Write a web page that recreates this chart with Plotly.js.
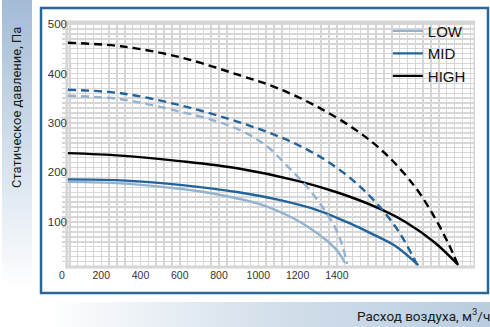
<!DOCTYPE html>
<html>
<head>
<meta charset="utf-8">
<script src="https://cdn.plot.ly/plotly-3.0.1.min.js"></script>
<style>
  html, body { margin: 0; padding: 0; background: #ffffff; }
  #wrap { position: relative; width: 490px; height: 327px; overflow: hidden; }
  #leftStrip { position: absolute; left: 2px; top: 0; width: 30px; height: 290px;
    background: linear-gradient(to bottom, #a3bbd5 0%, #cddbe9 45%, #ffffff 100%); }
  #bottomStrip { position: absolute; left: 46px; top: 302px; width: 444px; height: 25px;
    background: linear-gradient(to right, #ffffff 0%, #d4e0eb 50%, #b9cde0 100%); }
  #chart { position: absolute; left: 0; top: 0; width: 490px; height: 327px; }
</style>
</head>
<body>
<div id="wrap">
  <div id="leftStrip"></div>
  <div id="bottomStrip"></div>
  <div id="chart"></div>
</div>
<script>
// ---- data ----
const xTickLabelsHidden = ['1600', '1800', '2000'];   // no labels past 1400 in the reference
const seriesNames = ['LOW', 'MID', 'HIGH'];

// solid curves
const lowX  = [30, 300, 600, 800, 1000, 1150, 1250, 1350, 1410, 1442];
const lowY  = [181, 178, 167, 155, 137, 113, 91, 62, 38, 17];
const midX  = [30, 300, 600, 900, 1100, 1300, 1450, 1600, 1700, 1815];
const midY  = [186, 184, 175, 160, 145, 124, 100, 72, 51, 13];
const highX = [30, 300, 600, 900, 1200, 1400, 1600, 1750, 1900, 2019];
const highY = [239, 234, 223, 208, 183, 160, 130, 100, 58, 13];

// dashed curves
const lowDashX  = [30, 300, 600, 800, 950, 1050, 1150, 1250, 1330, 1390, 1430, 1452];
const lowDashY  = [355, 348, 323, 302, 277, 251, 212, 170, 128, 90, 50, 15];
const midDashX  = [30, 300, 600, 850, 1050, 1200, 1350, 1500, 1620, 1720, 1807];
const midDashY  = [367, 360, 336, 308, 281, 256, 223, 178, 130, 78, 15];
const highDashX = [30, 300, 600, 900, 1100, 1300, 1500, 1650, 1800, 1900, 1970, 2015];
const highDashY = [462, 455, 433, 397, 370, 333, 285, 237, 170, 108, 55, 15];

const yTitle = 'Статическое давление, Па';
const xTitle = 'Расход воздуха, м<sup>3</sup>/ч';

// ---- styles ----
const colors = ['#92b2d0', '#21639a', '#000000'];
const lw = 2.4;
const dashPat = '8px,5px';

function solid(x, y, i) {
  return { x: x, y: y, type: 'scatter', mode: 'lines', name: seriesNames[i],
    line: { color: colors[i], width: lw, shape: 'spline', smoothing: 1 },
    showlegend: true, hoverinfo: 'skip' };
}
function dashed(x, y, i) {
  return { x: x, y: y, type: 'scatter', mode: 'lines', name: seriesNames[i] + ' ',
    line: { color: colors[i], width: lw, shape: 'spline', smoothing: 1, dash: dashPat },
    showlegend: false, hoverinfo: 'skip' };
}

const traces = [
  solid(lowX, lowY, 0), solid(midX, midY, 1), solid(highX, highY, 2),
  dashed(lowDashX, lowDashY, 0), dashed(midDashX, midDashY, 1), dashed(highDashX, highDashY, 2)
];

const gridC = '#d6d6d6';
const tickFont = { family: 'Liberation Sans, Arial, sans-serif', color: '#333333' };
const condFont = 'Roboto, Liberation Sans, Arial, sans-serif';

const alias = {};
xTickLabelsHidden.forEach(function (t) { alias[t] = ' '; });

const layout = {
  width: 490, height: 327,
  margin: { l: 62, r: 15, t: 22, b: 60, pad: 0 },
  paper_bgcolor: 'rgba(0,0,0,0)',
  plot_bgcolor: '#fcfcfc',
  showlegend: true,
  legend: {
    x: 0.789, xanchor: 'left', y: 1.03, yanchor: 'top',
    bgcolor: 'rgba(0,0,0,0)', borderwidth: 0, tracegroupgap: 0,
    font: { family: 'Liberation Sans, Arial, sans-serif', size: 15, color: '#111111' }
  },
  xaxis: {
    range: [0, 2104], fixedrange: true,
    tickmode: 'linear', tick0: 0, dtick: 200, labelalias: alias,
    showgrid: true, gridcolor: gridC, gridwidth: 1.5,
    zeroline: false, showline: false, ticks: '',
    tickfont: Object.assign({ size: 10.5 }, tickFont),
    minor: { tickmode: 'linear', tick0: 0, dtick: 40, showgrid: true,
             gridcolor: gridC, gridwidth: 1.5, ticks: '' }
  },
  yaxis: {
    range: [9, 504], fixedrange: true,
    anchor: 'free', position: 0.0121,
    tickmode: 'linear', tick0: 0, dtick: 100,
    showgrid: true, gridcolor: gridC, gridwidth: 1.5,
    zeroline: false, showline: false, ticks: '',
    tickfont: Object.assign({ size: 11.5 }, tickFont),
    minor: { tickmode: 'linear', tick0: 0, dtick: 10, showgrid: true,
             gridcolor: gridC, gridwidth: 1.5, ticks: '' }
  },
  shapes: [
    // outer white panel with blue border
    { type: 'rect', xref: 'paper', yref: 'paper',
      x0: -0.0508, x1: 1.0315, y0: -0.1061, y1: 1.057,
      fillcolor: '#ffffff', line: { color: '#2a6698', width: 2.5 }, layer: 'below' },
    // cover strip left of the grid (above grid, below data and tick labels)
    { type: 'rect', xref: 'x', yref: 'paper', x0: 0, x1: 25, y0: 0, y1: 1,
      fillcolor: '#ffffff', line: { width: 0 }, layer: 'between' },
    // grey frame around the grid
    { type: 'rect', xref: 'x', yref: 'paper', x0: 25, x1: 2104, y0: 0, y1: 1,
      fillcolor: 'rgba(0,0,0,0)', line: { color: '#d6d6d6', width: 3 }, layer: 'between' }
  ],
  annotations: [
    { text: yTitle, xref: 'paper', yref: 'paper', x: -0.1114, y: 0.653,
      xanchor: 'center', yanchor: 'middle', textangle: -90, showarrow: false,
      font: { family: condFont, size: 13, color: '#1a1a1a' } },
    { text: xTitle, xref: 'paper', yref: 'paper', x: 1.041, y: -0.196,
      xanchor: 'right', yanchor: 'middle', showarrow: false,
      font: { family: condFont, size: 13.5, color: '#1a1a1a' } }
  ]
};

Plotly.newPlot('chart', traces, layout, { displayModeBar: false, staticPlot: true });
</script>
</body>
</html>
